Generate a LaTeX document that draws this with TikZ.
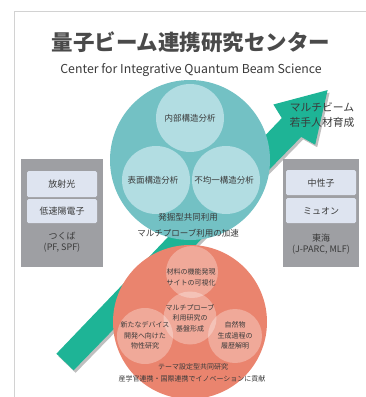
\documentclass[tikz,border=0pt]{standalone}
\usepackage{fontspec}
\setmainfont{Noto Sans CJK JP}
\definecolor{teal1}{HTML}{73C1C4}
\definecolor{teal2}{HTML}{B2DDE2}
\definecolor{salmon}{HTML}{EA846E}
\definecolor{arrowgreen}{HTML}{1EB496}
\definecolor{boxgray}{HTML}{9E9FA3}
\definecolor{innerbox}{HTML}{DEE4F0}
\definecolor{txt}{HTML}{3A3A3A}
\definecolor{titlec}{HTML}{4A4A4A}
\definecolor{frame}{HTML}{D2D2D2}
\tikzset{
  lbl/.style={text=txt, align=center, inner sep=0pt},
  f85/.style={font=\fontsize{8.5}{11}\selectfont},
  f7/.style={font=\fontsize{7}{10.5}\selectfont},
  f9/.style={font=\fontsize{9}{11}\selectfont},
  ibox/.style={fill=innerbox, rounded corners=1.5pt},
  lightc/.style={fill=white, fill opacity=0.3},
}
\begin{document}
\begin{tikzpicture}[x=1pt,y=-1pt]
\useasboundingbox (0,0) rectangle (366,397);
% frame
\draw[frame, line width=1pt] (14,397) -- (14,11) -- (366,11);
% title
\node[lbl, text=titlec, font=\fontsize{21.5}{24}\selectfont\bfseries] (title) at (191,42) {量子ビーム連携研究センター};
\node[lbl, font=\fontsize{12.3}{14}\selectfont] (sub) at (191,70) {Center for Integrative Quantum Beam Science};
% arrow shadow
\fill[black, opacity=0.25, shift={(2,2.5)}] (56.4,353.7) -- (281.8,118.1) -- (273.4,104.5) -- (327.6,90.1) -- (315.2,144.7) -- (301.2,136.9) -- (73.6,370.3) -- cycle;
% arrow
\fill[arrowgreen] (56.4,353.7) -- (281.8,118.1) -- (273.4,104.5) -- (327.6,90.1) -- (315.2,144.7) -- (301.2,136.9) -- (73.6,370.3) -- cycle;
\node[lbl, font=\fontsize{10.8}{15}\selectfont] (arrowtxt) at (322,115) {マルチビーム\\若手人材育成};
% teal circle
\fill[teal1] (190,160) circle (80);
\fill[teal2] (190,118) circle (34);
\fill[teal2] (156,180) circle (34);
\fill[teal2] (226,180) circle (34);
\node[lbl, f85] (t1) at (190,118) {内部構造分析};
\node[lbl, f85] (t2) at (153,180) {表面構造分析};
\node[lbl, f85] (t3) at (224,180) {不均一構造分析};
\node[lbl, f85] (t4) at (188,217) {発掘型共同利用};
\node[lbl, f85] (t5) at (188,233) {マルチプローブ利用の加速};
% salmon circle
\fill[salmon] (190,322) circle (77);
\fill[lightc] (192,272) circle (26);
\fill[lightc] (190,318) circle (26.5);
\fill[lightc] (145,336) circle (28);
\fill[lightc] (235,336) circle (27);
\node[lbl, f7] (s1) at (191,277.5) {材料の機能発現\\サイトの可視化};
\node[lbl, f7] (s2) at (190,318) {マルチプローブ\\利用研究の\\基盤形成};
\node[lbl, f7] (s3) at (145,335.5) {新たなデバイス\\開発へ向けた\\物性研究};
\node[lbl, f7] (s4) at (235,335.5) {自然物\\生成過程の\\履歴解明};
\node[lbl, f7] (s5) at (193,367) {テーマ設定型共同研究};
\node[lbl, f7] (s6) at (192,379) {産学官連携・国際連携でイノベーションに貢献};
% left gray box
\fill[boxgray] (21,159) rectangle (103,267);
\fill[ibox] (27,171) rectangle (97,197);
\fill[ibox] (27,199) rectangle (97,223);
\node[lbl, f9] (l1) at (62,184) {放射光};
\node[lbl, f9] (l2) at (62,211) {低速陽電子};
\node[lbl, f9] (l3) at (62,242.5) {つくば\\(PF, SPF)};
% right gray box
\fill[boxgray] (283,159) rectangle (359,267);
\fill[ibox] (286,170) rectangle (356,195);
\fill[ibox] (286,198) rectangle (356,223);
\node[lbl, f9] (r1) at (321,183) {中性子};
\node[lbl, f9] (r2) at (321,211) {ミュオン};
\node[lbl, f9] (r3) at (321,244.5) {東海\\(J-PARC, MLF)};
\end{tikzpicture}
\end{document}
